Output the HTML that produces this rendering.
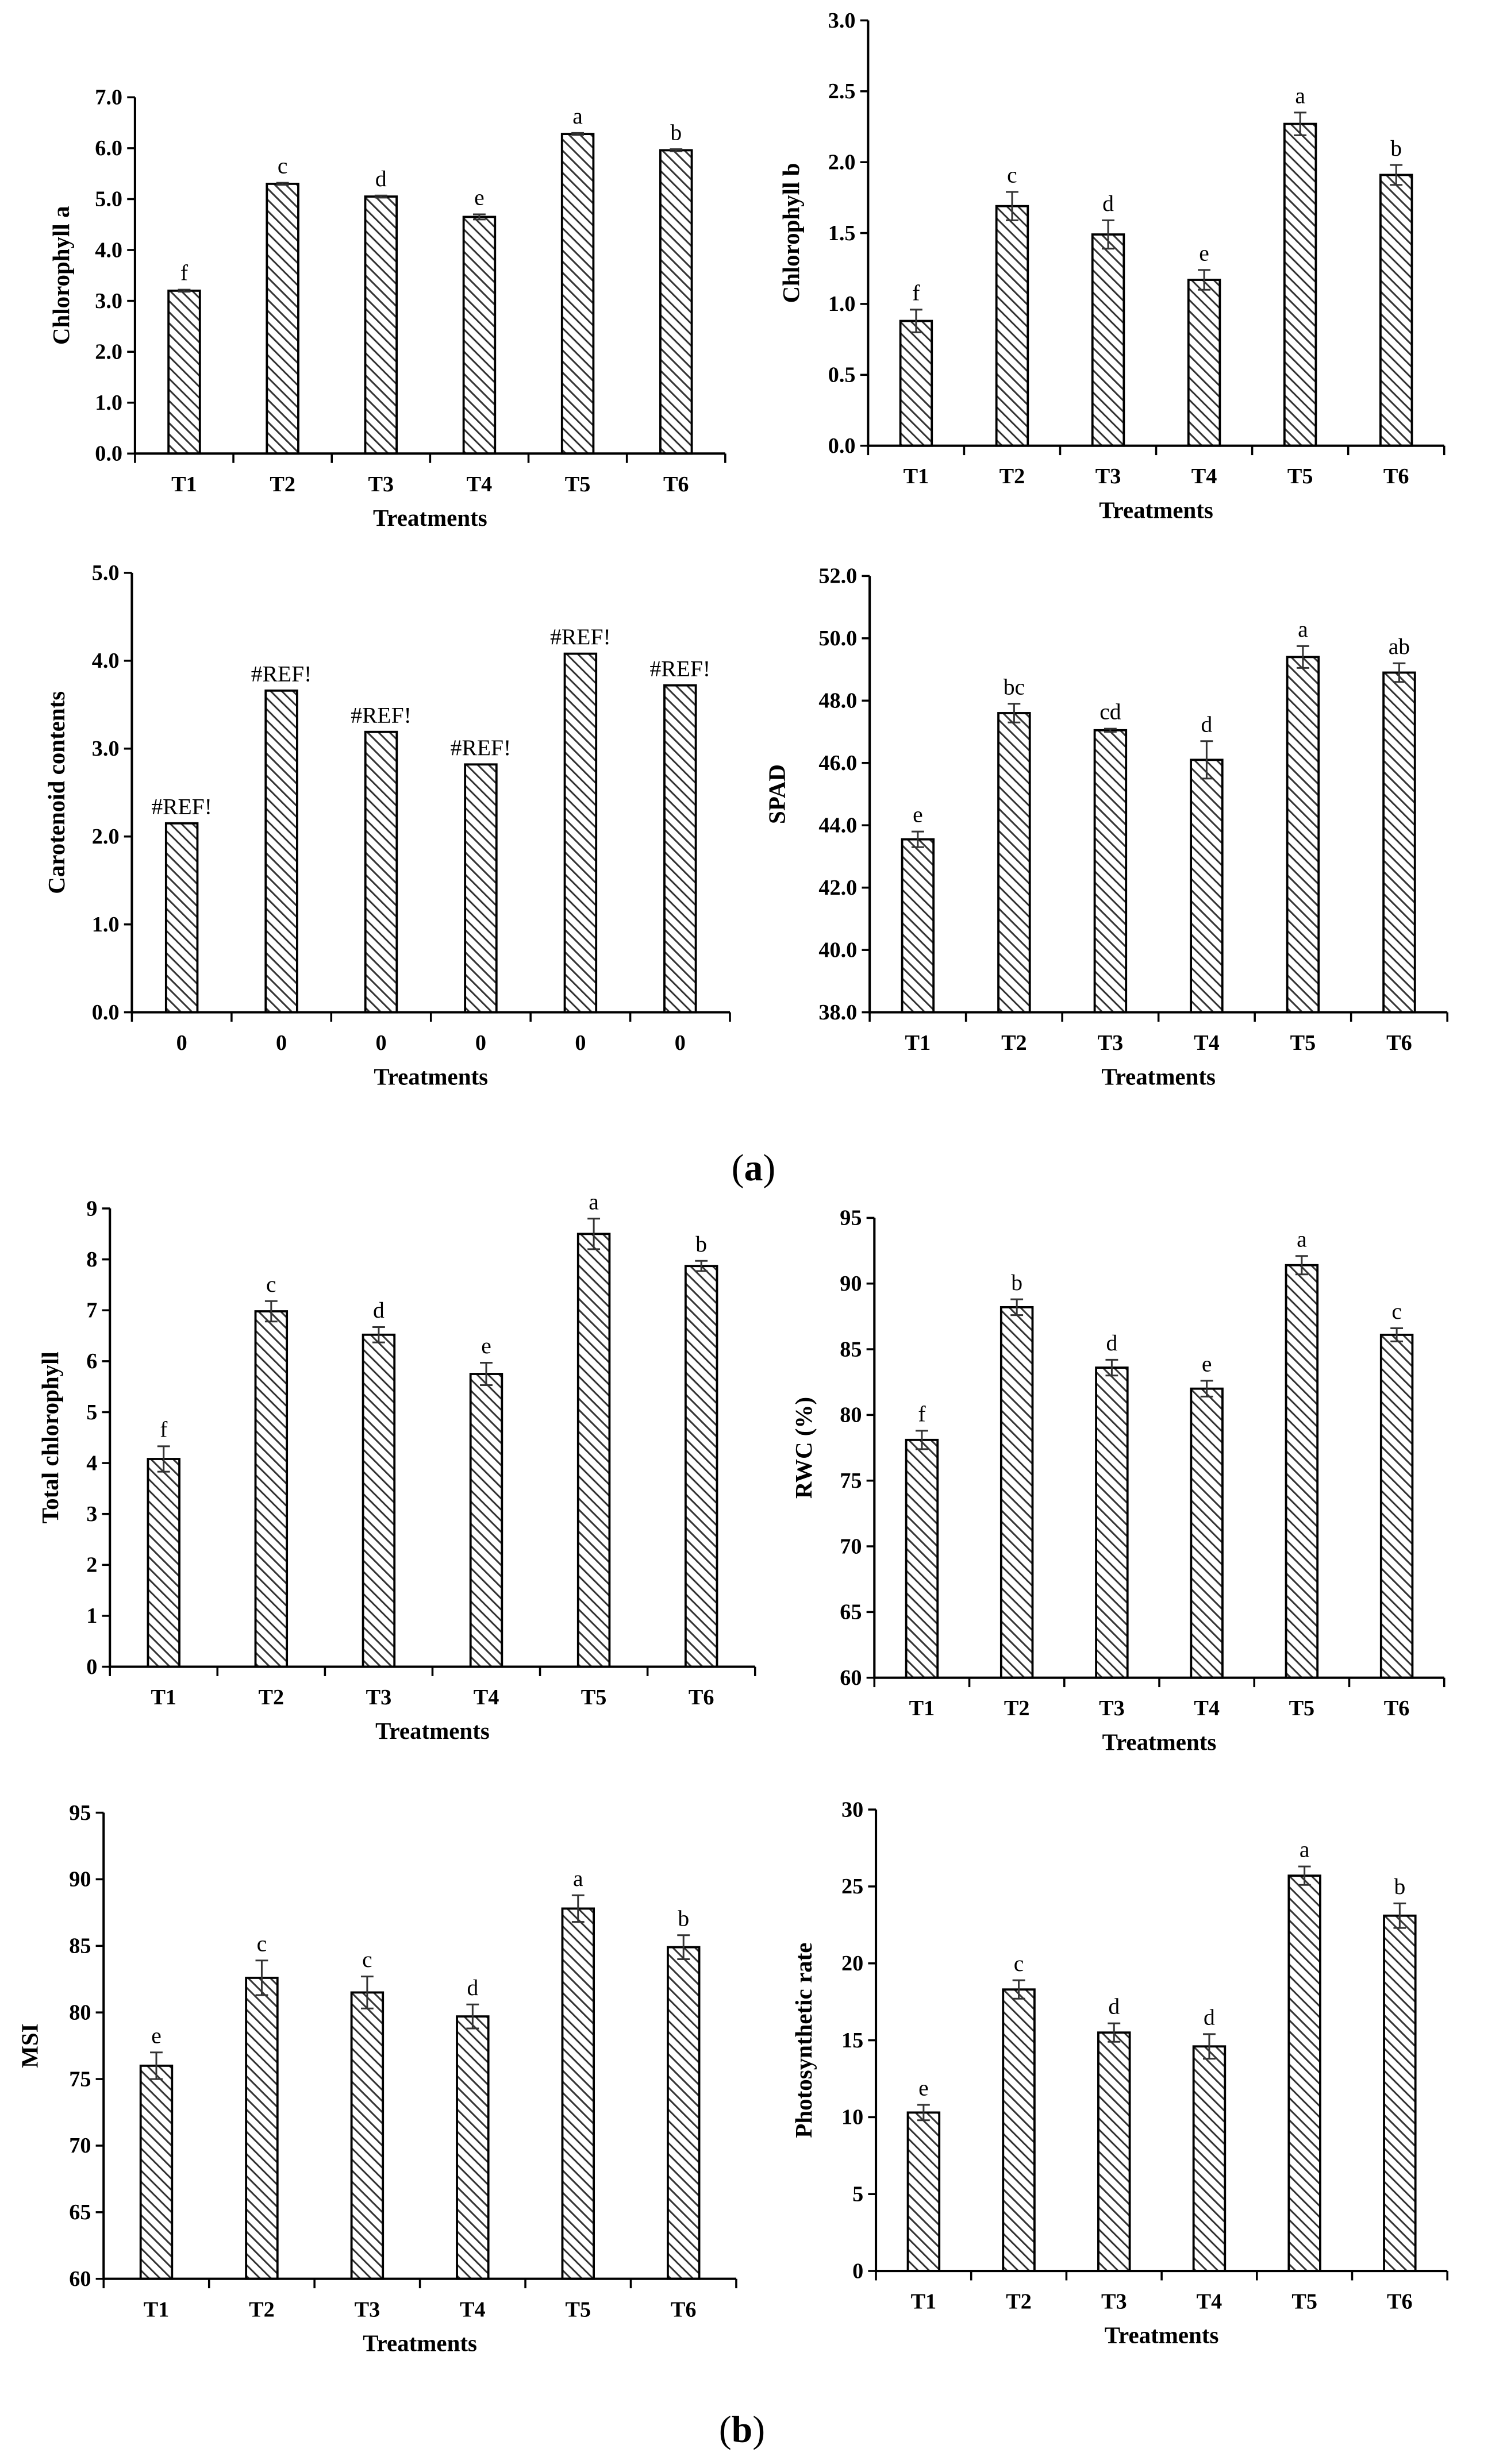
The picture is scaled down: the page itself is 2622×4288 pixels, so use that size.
<!DOCTYPE html>
<html><head><meta charset="utf-8">
<style>
html,body{margin:0;padding:0;background:#fff;}
svg{display:block;}
text{font-family:"Liberation Serif",serif;fill:#000;}
.tick{font-weight:bold;font-size:14px;}
.ttl{font-weight:bold;font-size:15px;}
.let{font-size:14.5px;}
</style></head>
<body>
<svg id="fig" width="2622" height="4288" viewBox="0 0 960 1570" xmlns="http://www.w3.org/2000/svg">
<defs>
<pattern id="hatch" patternUnits="userSpaceOnUse" width="5" height="5" patternTransform="rotate(-45)">
<rect width="5" height="5" fill="#fff"/>
<line x1="0" y1="0" x2="0" y2="5" stroke="#333" stroke-width="2.2"/>
</pattern>
</defs>
<text x="466" y="752" style="font-size:24px">(<tspan font-weight="bold">a</tspan>)</text>
<text x="458" y="1556" style="font-size:24px">(<tspan font-weight="bold">b</tspan>)</text>
</svg>
<script>
const tCats = ["T1","T2","T3","T4","T5","T6"];
const zCats = ["0","0","0","0","0","0"];
const chlA = [3.2,5.3,5.05,4.65,6.28,5.96];
const chlAErr = [0.02,0.02,0.02,0.05,0.02,0.02];
const chlALet = ["f","c","d","e","a","b"];
const chlB = [0.88,1.69,1.49,1.17,2.27,1.91];
const chlBErr = [0.08,0.1,0.1,0.07,0.08,0.07];
const chlBLet = ["f","c","d","e","a","b"];
const carot = [2.15,3.66,3.19,2.82,4.08,3.72];
const carotErr = [0,0,0,0,0,0];
const carotLet = ["#REF!","#REF!","#REF!","#REF!","#REF!","#REF!"];
const spad = [43.55,47.6,47.05,46.1,49.4,48.9];
const spadErr = [0.25,0.3,0.05,0.6,0.35,0.3];
const spadLet = ["e","bc","cd","d","a","ab"];
const totChl = [4.08,6.98,6.52,5.75,8.5,7.87];
const totChlErr = [0.25,0.2,0.15,0.22,0.3,0.1];
const totChlLet = ["f","c","d","e","a","b"];
const rwc = [78.1,88.2,83.6,82.0,91.4,86.1];
const rwcErr = [0.7,0.6,0.6,0.6,0.7,0.5];
const rwcLet = ["f","b","d","e","a","c"];
const msi = [76.0,82.6,81.5,79.7,87.8,84.9];
const msiErr = [1.0,1.3,1.2,0.9,1.0,0.9];
const msiLet = ["e","c","c","d","a","b"];
const photo = [10.3,18.3,15.5,14.6,25.7,23.1];
const photoErr = [0.5,0.6,0.6,0.8,0.6,0.8];
const photoLet = ["e","c","d","d","a","b"];

const NS="http://www.w3.org/2000/svg";
const svg=document.getElementById('fig');
function mk(tag,attrs,parent){const e=document.createElementNS(NS,tag);for(const k in attrs)e.setAttribute(k,attrs[k]);(parent||svg).appendChild(e);return e;}

function chart(c){
  const g=mk('g',{});
  
  
  const y=v=>c.y0-(v-c.min)/(c.max-c.min)*(c.y0-c.y1);
  const n=c.cats.length, step=(c.x1-c.x0)/n;
  const x=i=>c.x0+step*(i+0.5);
  for(let v=c.min; v<=c.max+1e-9; v+=c.step){
    const yy=y(v);
    const tk=mk('line',{x1:c.x0-5,x2:c.x0,y1:yy,y2:yy,stroke:'#000','stroke-width':1.3},g);
    
    
    const t=mk('text',{x:c.x0-8,y:yy+4.5,'text-anchor':'end',class:'tick'},g);
    
    
    t.textContent=v.toFixed(c.dec);
  }
  c.vals.forEach((v,i)=>{
    const cx=x(i), w=20;
    const r=mk('rect',{x:cx-w/2,y:y(v),width:w,height:c.y0-y(v),fill:'url(#hatch)',stroke:'#000','stroke-width':1.4},g);
    
    
    const e=c.err[i];
    let top=y(v);
    if(e>0){
      const eb=mk('path',{d:`M${cx-4},${y(v+e)}H${cx+4}M${cx},${y(v+e)}V${y(v-e)}M${cx-4},${y(v-e)}H${cx+4}`,stroke:'#333','stroke-width':1.1,fill:'none'},g);
      
      
      top=y(v+e);
    }
    const l=mk('text',{x:cx,y:top-6,'text-anchor':'middle',class:'let'},g);
    
    
    l.textContent=c.lets[i];
    const xl=mk('text',{x:cx,y:c.y0+24,'text-anchor':'middle',class:'tick'},g);
    
    
    xl.textContent=c.cats[i];
  });
  const ax=mk('path',{d:`M${c.x0},${c.y1}V${c.y0}H${c.x1}`,stroke:'#000','stroke-width':1.5,fill:'none'},g);
  
  
  for(let i=0;i<=n;i++){
    const tk=mk('line',{x1:c.x0+step*i,x2:c.x0+step*i,y1:c.y0,y2:c.y0+6,stroke:'#000','stroke-width':1.3},g);
    
    
  }
  const xt=mk('text',{x:(c.x0+c.x1)/2,y:c.y0+46,'text-anchor':'middle',class:'ttl'},g);
  
  
  xt.textContent='Treatments';
  const ym=(c.y0+c.y1)/2;
  const yt=mk('text',{x:c.tx,y:ym,'text-anchor':'middle',class:'ttl',transform:`rotate(-90 ${c.tx} ${ym})`},g);
  
  
  yt.textContent=c.title;
}

chart({name:'chlorophyll-a-chart',cats:tCats,vals:chlA,err:chlAErr,lets:chlALet,min:0,max:7,step:1,dec:1,x0:86,x1:462,y0:289,y1:62,tx:44,title:'Chlorophyll a'});
chart({name:'chlorophyll-b-chart',cats:tCats,vals:chlB,err:chlBErr,lets:chlBLet,min:0,max:3,step:0.5,dec:1,x0:553,x1:920,y0:284,y1:13,tx:509,title:'Chlorophyll b'});
chart({name:'carotenoid-chart',cats:zCats,vals:carot,err:carotErr,lets:carotLet,min:0,max:5,step:1,dec:1,x0:84,x1:465,y0:645,y1:365,tx:41,title:'Carotenoid contents'});
chart({name:'spad-chart',cats:tCats,vals:spad,err:spadErr,lets:spadLet,min:38,max:52,step:2,dec:1,x0:554,x1:922,y0:645,y1:367,tx:500,title:'SPAD'});
chart({name:'total-chlorophyll-chart',cats:tCats,vals:totChl,err:totChlErr,lets:totChlLet,min:0,max:9,step:1,dec:0,x0:70,x1:481,y0:1062,y1:770,tx:37,title:'Total chlorophyll'});
chart({name:'rwc-chart',cats:tCats,vals:rwc,err:rwcErr,lets:rwcLet,min:60,max:95,step:5,dec:0,x0:557,x1:920,y0:1069,y1:776,tx:517,title:'RWC (%)'});
chart({name:'msi-chart',cats:tCats,vals:msi,err:msiErr,lets:msiLet,min:60,max:95,step:5,dec:0,x0:66,x1:469,y0:1452,y1:1155,tx:24,title:'MSI'});
chart({name:'photosynthetic-rate-chart',cats:tCats,vals:photo,err:photoErr,lets:photoLet,min:0,max:30,step:5,dec:0,x0:558,x1:922,y0:1447,y1:1153,tx:517,title:'Photosynthetic rate'});
</script>
</body></html>
